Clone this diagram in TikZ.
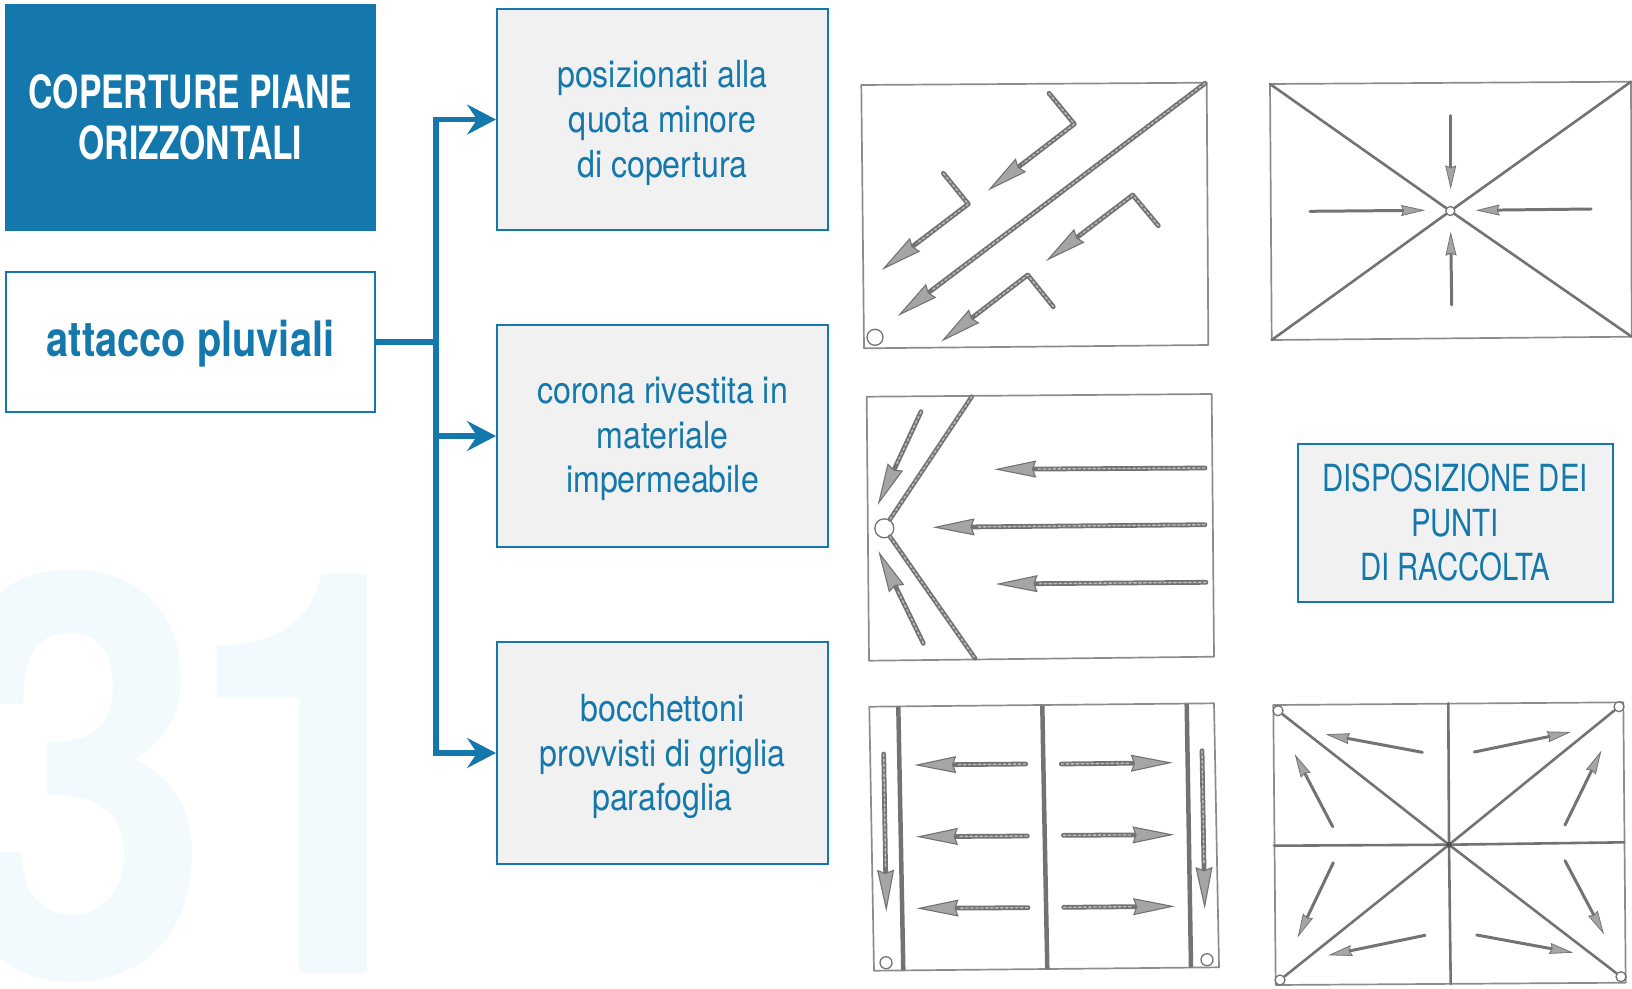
\documentclass[tikz,border=0pt]{standalone}
\usepackage{fontspec}
\setmainfont{TeX Gyre Heros}
\newfontfamily\infofont[FakeStretch=0.86]{TeX Gyre Heros}
\newfontfamily\capsfont[FakeStretch=0.785]{TeX Gyre Heros}
\newfontfamily\titlefont[FakeStretch=0.735]{TeX Gyre Heros}
\newfontfamily\attfont[FakeStretch=0.815]{TeX Gyre Heros}
\newfontfamily\wmfont[FakeStretch=0.86]{TeX Gyre Heros}
\usetikzlibrary{arrows.meta,calc}
\definecolor{bluemain}{RGB}{20,120,172}
\definecolor{boxgray}{RGB}{241,241,241}
\definecolor{wmark}{RGB}{242,250,253}
\definecolor{sketchline}{RGB}{115,115,115}
\definecolor{sketchframe}{RGB}{140,140,140}
\definecolor{sketchhead}{RGB}{165,165,165}
\definecolor{ropelight}{RGB}{190,190,190}
% #1: extra room above the text, so that the node centres it lower by half of that
\newcommand\lns[2]{\raisebox{0pt}[\dimexpr\height+#1\relax][\depth]{\begin{tabular}{@{}c@{}}#2\end{tabular}}}
\tikzset{
  titlebox/.style={fill=bluemain,text=white,inner sep=0pt,minimum width=371bp,minimum height=226.5bp,font=\titlefont\bfseries\fontsize{46}{52}\selectfont},
  mainbox/.style={draw=bluemain,line width=2pt,fill=white,text=bluemain,inner sep=0pt,minimum width=369bp,minimum height=140bp,font=\attfont\bfseries\fontsize{49}{52}\selectfont},
  infobox/.style={draw=bluemain,line width=2pt,fill=boxgray,text=bluemain,inner sep=0pt,font=\infofont\fontsize{37.5}{45}\selectfont},
  busline/.style={draw=bluemain,line width=6pt,line join=miter},
  busarrow/.style={busline,-{Stealth[length=29pt,width=30pt,inset=10pt,color=bluemain,fill=bluemain]}},
  frameline/.style={draw=sketchframe,line width=1.7pt,line join=round},
  rope/.style={draw=sketchline,line width=4.6pt,line cap=round,line join=round,
    postaction={draw=ropelight,line width=1.4pt,dash pattern=on 2.5pt off 2.5pt}},
  ridgethin/.style={draw=sketchline,line width=2.6pt,line cap=round},
  wall/.style={draw=sketchline,line width=4.5pt},
  bigflow/.style={draw=sketchline,line width=4.8pt,line cap=round,line join=round,
    -{Stealth[length=42pt,width=17pt,inset=3pt,fill=sketchhead,color=sketchline,line width=1.1pt]},
    postaction={draw=ropelight,line width=1.4pt,dash pattern=on 2.5pt off 2.5pt,-,shorten >=44pt}},
  smallflow/.style={draw=sketchline,line width=3pt,line cap=round,line join=round,-{Stealth[length=24pt,width=11pt,inset=2pt,fill=sketchhead,color=sketchline,line width=.8pt]}},
  drainhole/.style={circle,draw=sketchline,fill=white,line width=1.3pt,inner sep=0pt},
}
\begin{document}
\begin{tikzpicture}[x=1bp,y=-1bp]
\useasboundingbox (0,0) rectangle (1632,988);
\fill[white] (0,0) rectangle (1632,988);
% watermark
\node[anchor=base west,inner sep=0pt,text=wmark,font=\wmfont\bfseries\fontsize{565}{565}\selectfont] (wm) at (-58,973) {\raisebox{-5pt}{3}\kern-27pt 1};
% left column
\node[titlebox] (title) at (190.5,117.5) {\lns{12.4pt}{COPERTURE PIANE\\ORIZZONTALI}};
\node[mainbox] (attacco) at (190.5,342) {\lns{8.4pt}{attacco pluviali}};
\node[infobox,minimum width=331bp,minimum height=221bp] (b1) at (662.5,119.5) {\lns{8.4pt}{posizionati alla\\quota minore\\di copertura}};
\node[infobox,minimum width=331bp,minimum height=222bp] (b2) at (662.5,436) {\lns{6.2pt}{corona rivestita in\\materiale\\impermeabile}};
\node[infobox,minimum width=331bp,minimum height=222bp] (b3) at (662.5,753) {\lns{8.4pt}{bocchettoni\\provvisti di griglia\\parafoglia}};
\node[infobox,minimum width=315bp,minimum height=158bp,font=\capsfont\fontsize{37.5}{45}\selectfont] (b4) at (1455,523) {\lns{8.4pt}{DISPOSIZIONE DEI\\PUNTI\\DI RACCOLTA}};
% connectors
\coordinate (bus) at (436,342);
\draw[busarrow] (attacco.east) -- (bus) -- (bus |- b1.west) -- (b1.west);
\draw[busarrow] (bus) -- (bus |- b2.west) -- (b2.west);
\draw[busarrow] (bus) -- (bus |- b3.west) -- (b3.west);
% sketch 1
\draw[frameline] (861.3,85) -- (1206.7,82.7) -- (1208.3,345) -- (864,348.3) -- cycle;
\node[drainhole,minimum size=16bp] (s1h) at (875,337.3) {};
\draw[bigflow] (1205,83.3) -- (897.7,316);
\draw[bigflow] (1049,93.3) -- (1074.3,124) -- (987.7,190.7);
\draw[bigflow] (943.3,173.3) -- (968.3,204) -- (881.7,270);
\draw[bigflow] (1158.3,225.7) -- (1132.7,195) -- (1046,261);
\draw[bigflow] (1053.3,306.7) -- (1027.7,275) -- (941,341.7);
% sketch 2
\draw[frameline] (1270,84) -- (1631,81.7) -- (1631.7,336.7) -- (1271.7,340) -- cycle;
\node[drainhole,minimum size=9bp] (s2h) at (1450.3,211) {};
\draw[ridgethin] (1270,84) -- (s2h);
\draw[ridgethin] (1631,81.7) -- (s2h);
\draw[ridgethin] (1631.7,336.7) -- (s2h);
\draw[ridgethin] (1271.7,340) -- (s2h);
\draw[smallflow] (1450.7,115.7) -- (1450.7,189.3);
\draw[smallflow] (1310,211.3) -- (1425,210.3);
\draw[smallflow] (1591,209) -- (1475.7,210.3);
\draw[smallflow] (1451.7,305) -- (1450.7,231.7);
% sketch 3
\draw[frameline] (866.7,396.7) -- (1211.7,394) -- (1214,656.7) -- (869,660.7) -- cycle;
\node[drainhole,minimum size=19bp] (s3h) at (884.3,528.3) {};
\draw[rope] (971.7,396.7) -- (890,519.3);
\draw[rope] (890,536.7) -- (975,658.3);
\draw[bigflow] (921,411.7) -- (877.7,505);
\draw[bigflow] (923.3,643.3) -- (878.3,551);
\draw[bigflow] (1205,468) -- (994.3,469.3);
\draw[bigflow] (1205,524.7) -- (932.7,527.3);
\draw[bigflow] (1206,582.3) -- (995.7,584);
% sketch 4
\draw[frameline] (869.3,706.7) -- (1214,703.3) -- (1219,967.3) -- (874,970.7) -- cycle;
\draw[wall] (898.3,706.7) -- (903.3,970);
\draw[wall] (1042.3,705.7) .. controls (1044,800) .. (1047.3,969);
\draw[wall] (1186.7,704) -- (1191,967.7);
\node[drainhole,minimum size=12bp] (s4a) at (886,962.7) {};
\node[drainhole,minimum size=12bp] (s4b) at (1207,959.7) {};
\draw[bigflow] (883.7,754) -- (886.3,911.7);
\draw[bigflow] (1202,750.7) -- (1204.7,909);
\draw[bigflow] (1025.7,764) -- (914.3,765);
\draw[bigflow] (1027.3,836) -- (916,836.7);
\draw[bigflow] (1028,907.7) -- (916.7,908.3);
\draw[bigflow] (1061.3,764) -- (1172.7,762.7);
\draw[bigflow] (1063.3,835.3) -- (1174.3,834.7);
\draw[bigflow] (1063.7,907.3) -- (1175,906.3);
% sketch 5
\draw[frameline] (1273.3,705) -- (1623.3,702.3) -- (1625.7,982.7) -- (1275.7,985) -- cycle;
\node[drainhole,minimum size=10bp] (s5a) at (1278,710.7) {};
\node[drainhole,minimum size=10bp] (s5b) at (1619,706.7) {};
\node[drainhole,minimum size=10bp] (s5c) at (1280,980) {};
\node[drainhole,minimum size=10bp] (s5d) at (1621,976.7) {};
\node[circle,fill=sketchline!70!black,minimum size=7bp,inner sep=0pt] (s5o) at (1449,844.7) {};
\draw[ridgethin] (1448.3,703.3) -- (s5o);
\draw[ridgethin] (1450.7,984) -- (s5o);
\draw[ridgethin] (1274,845.7) -- (s5o);
\draw[ridgethin] (1624,842.3) -- (s5o);
\draw[ridgethin] (s5a) -- (s5o);
\draw[ridgethin] (s5b) -- (s5o);
\draw[ridgethin] (s5c) -- (s5o);
\draw[ridgethin] (s5d) -- (s5o);
\draw[smallflow] (1422.3,752.3) -- (1325.7,734.3);
\draw[smallflow] (1474.3,752) -- (1571,732);
\draw[smallflow] (1332.7,826.7) -- (1294.7,754);
\draw[smallflow] (1565,825) -- (1601.3,750.7);
\draw[smallflow] (1333.3,862.7) -- (1297.7,937.3);
\draw[smallflow] (1565,860.7) -- (1604,934.3);
\draw[smallflow] (1425,935.3) -- (1328.3,955.3);
\draw[smallflow] (1476.7,935) -- (1573.3,952.7);
\end{tikzpicture}
\end{document}
